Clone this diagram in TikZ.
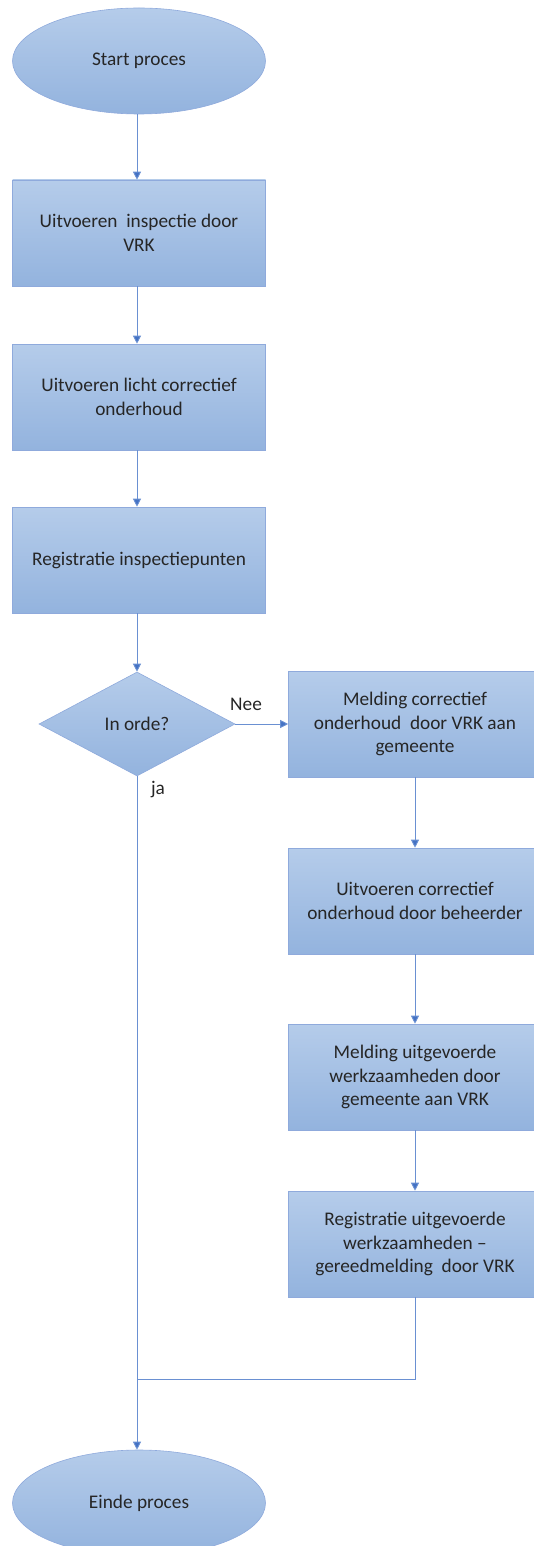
\documentclass[tikz,border=0pt]{standalone}
\usepackage{fontspec}
\setmainfont{Carlito}
\usetikzlibrary{shapes.geometric,arrows.meta}
\definecolor{fillTop}{HTML}{B5CCEA}
\definecolor{fillBot}{HTML}{93B3DE}
\definecolor{edgeC}{HTML}{8FAADC}
\definecolor{lineC}{HTML}{6A90D2}
\definecolor{arrC}{HTML}{4472C4}
\definecolor{txtC}{HTML}{262626}
\tikzset{
  box/.style={rectangle, draw=edgeC, line width=0.6pt, top color=fillTop, bottom color=fillBot,
    minimum width=253pt, minimum height=106pt, inner sep=2pt, align=center, text=txtC,
    font=\fontsize{19.3pt}{23.5pt}\selectfont},
  term/.style={box, ellipse},
  dec/.style={box, diamond, minimum width=196pt, minimum height=104pt, shape aspect=1.9},
  conn/.style={draw=lineC, line width=0.9pt},
  arr/.style={conn, -{Triangle[width=8pt,length=8pt,fill=arrC]}},
  lbl/.style={text=txtC, font=\fontsize{19.3pt}{23.5pt}\selectfont, inner sep=0pt}
}
\begin{document}
\begin{tikzpicture}[x=1pt,y=-1pt]
\useasboundingbox (0,0) rectangle (533,1546);
\node[term] (start) at (139,61) {Start proces};
\node[box] (b1) at (139,233) {Uitvoeren\ \ inspectie door\\VRK};
\node[box] (b2) at (139,397) {Uitvoeren licht correctief\\onderhoud};
\node[box] (b3) at (139,560) {Registratie inspectiepunten};
\node[dec] (d) at (137,724) {In orde?};
\node[box] (b4) at (415,724) {Melding correctief\\onderhoud\ \ door VRK aan\\gemeente};
\node[box] (b5) at (415,901) {Uitvoeren correctief\\onderhoud door beheerder};
\node[box] (b6) at (415,1077) {Melding uitgevoerde\\werkzaamheden door\\gemeente aan VRK};
\node[box] (b7) at (415,1244) {Registratie uitgevoerde\\werkzaamheden --\\gereedmelding\ \ door VRK};
\node[term] (end) at (139,1503) {Einde proces};
\coordinate (j) at (137,1379);
\node[lbl] (nee) at (246,704) {Nee};
\node[lbl] (ja) at (158,790) {ja};
\draw[arr] (start.south -| 137,0) -- (b1.north -| 137,0);
\draw[arr] (b1.south -| 137,0) -- (b2.north -| 137,0);
\draw[arr] (b2.south -| 137,0) -- (b3.north -| 137,0);
\draw[arr] (b3.south -| 137,0) -- (d.north);
\draw[arr] (d.east) -- (b4.west);
\draw[arr] (b4) -- (b5);
\draw[arr] (b5) -- (b6);
\draw[arr] (b6) -- (b7);
\draw[arr] (d.south) -- (end.north -| d.south);
\draw[conn] (b7.south) |- (j);
\end{tikzpicture}
\end{document}
